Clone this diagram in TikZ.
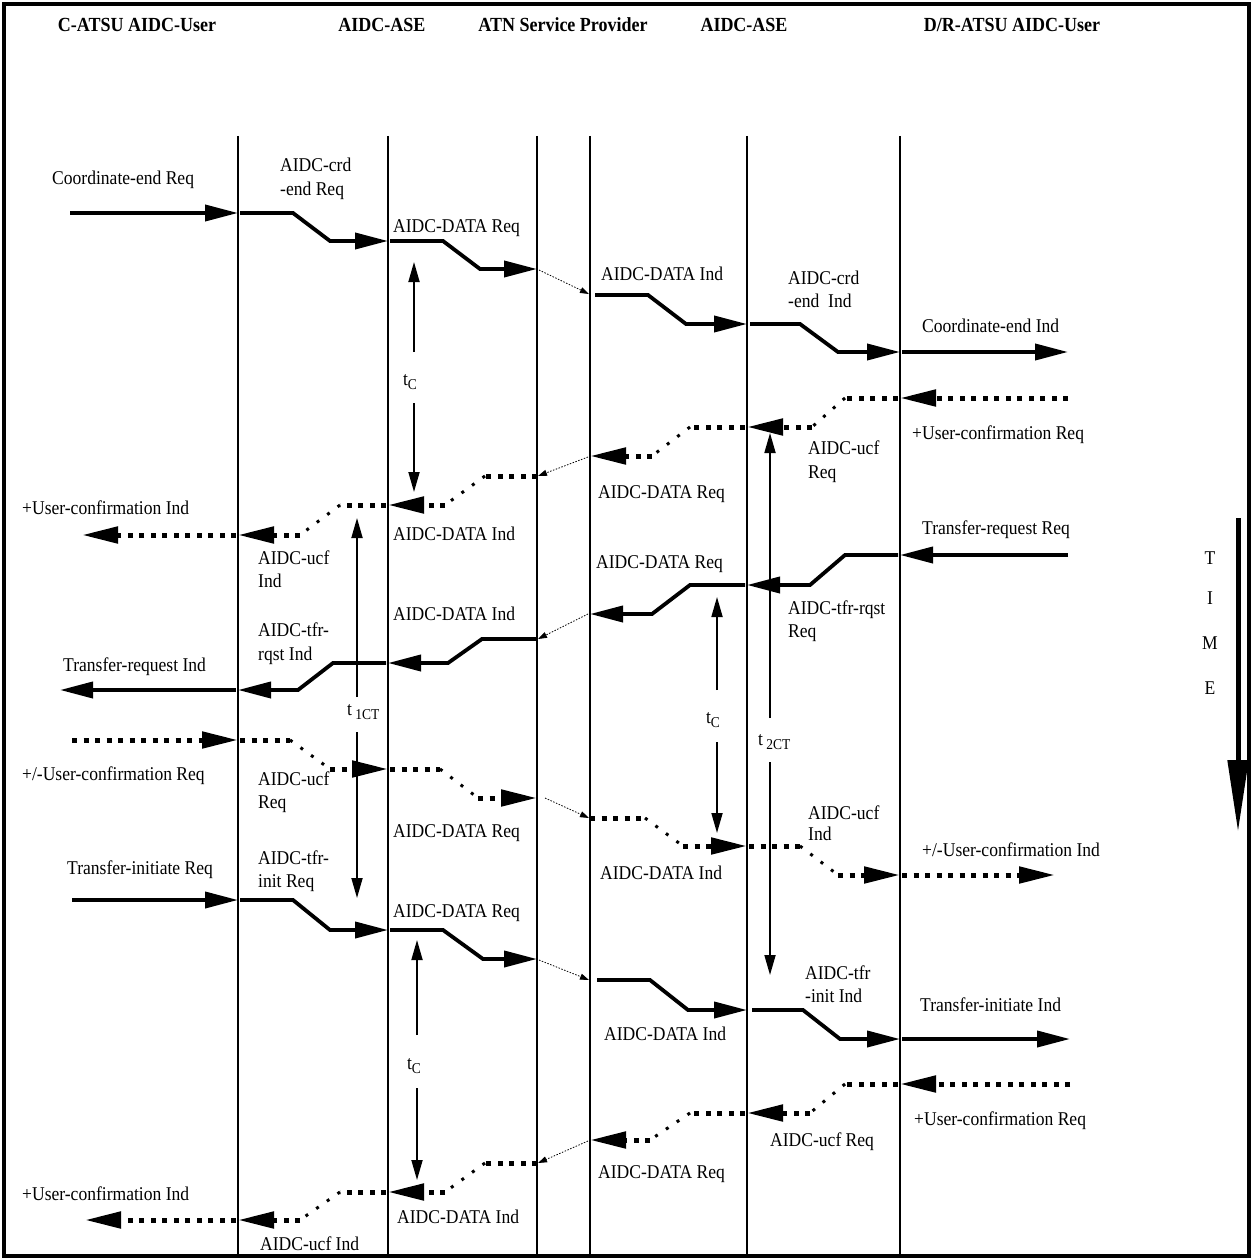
\documentclass[tikz,border=0pt]{standalone}
\usepackage{fontspec}
\setmainfont{Liberation Serif}[FakeStretch=0.9]
\usetikzlibrary{arrows.meta}

\begin{document}
\begin{tikzpicture}[x=1pt,y=-1pt,
  lifeline/.style={line width=1.8pt},
  sol/.style={line width=3.8pt, -{Triangle[length=33pt,width=16pt]}},
  dotline/.style={line width=5pt, dash pattern=on 5pt off 6.5pt},
  dotdiag/.style={line width=3pt, dash pattern=on 3pt off 10pt},
  dot/.style={dotline, -{Triangle[length=36pt,width=16pt]}},
  relay/.style={line width=0.8pt, dash pattern=on 1.5pt off 1.5pt, -{Triangle[length=9pt,width=6pt]}},
  timer/.style={line width=1.8pt, -{Triangle[length=20pt,width=11pt]}},
  lbl/.style={anchor=base west, inner sep=0pt, font=\fontsize{19.5}{23}\selectfont},
  clbl/.style={anchor=base, inner sep=0pt, font=\fontsize{19.5}{23}\selectfont},
  hdr/.style={anchor=base, inner sep=0pt, font=\fontsize{20}{24}\selectfont\bfseries},
]
\newcommand{\subt}[1]{\raisebox{-4pt}{\fontsize{15}{15}\selectfont #1}}
% dotted step message: start x, upper y, bend x 1, bend x 2, lower y, end x
\newcommand{\dotstep}[6]{%
  \draw[dotline] (#1,#2) -- (#3,#2);
  \draw[dotdiag] (#3,#2) -- (#4,#5);
  \draw[dot] (#4,#5) -- (#6,#5);}
\useasboundingbox (0,0) rectangle (1253,1260);

% frame
\draw[line width=4.5pt] (4,4) rectangle (1249,1256);

% column headings
\node[hdr] (h1) at (137,32) {C-ATSU AIDC-User};
\node[hdr] (h2) at (382,32) {AIDC-ASE};
\node[hdr] (h3) at (563,32) {ATN Service Provider};
\node[hdr] (h4) at (744,32) {AIDC-ASE};
\node[hdr] (h5) at (1012,32) {D/R-ATSU AIDC-User};

% lifelines
\foreach \lx in {238,388,537,590,747,900}
  \draw[lifeline] (\lx,136) -- (\lx,1256);

% --- Coordinate-end (solid, rightwards)
\draw[sol] (70,213) -- (238,213);
\draw[sol] (240,213) -- (293,213) -- (330,241) -- (388,241);
\draw[sol] (390,241) -- (443,241) -- (480,269) -- (537,269);
\draw[relay] (539,270) -- (589,294);
\draw[sol] (595,295) -- (648,295) -- (686,324) -- (747,324);
\draw[sol] (750,324) -- (800,324) -- (838,352) -- (900,352);
\draw[sol] (902,352) -- (1068,352);

% --- +User-confirmation (dotted, leftwards)
\draw[dot] (1068,398) -- (900,398);
\dotstep{898}{398}{845}{812}{427}{747}
\dotstep{745}{427}{690}{652}{456}{590}
\draw[relay] (588,457) -- (538,476);
\dotstep{537}{476}{485}{445}{505}{388}
\dotstep{386}{505}{340}{300}{535}{238}
\draw[dot] (236,535) -- (82,535);

% --- Transfer-request (solid, leftwards)
\draw[sol] (1068,555) -- (900,555);
\draw[sol] (898,555) -- (845,555) -- (810,585) -- (747,585);
\draw[sol] (745,585) -- (690,585) -- (652,614) -- (590,614);
\draw[relay] (588,614) -- (538,639);
\draw[sol] (537,639) -- (482,639) -- (448,663) -- (388,663);
\draw[sol] (386,663) -- (333,663) -- (298,690) -- (238,690);
\draw[sol] (236,690) -- (60,690);

% --- +/-User-confirmation (dotted, rightwards)
\draw[dot] (72,740) -- (238,740);
\dotstep{240}{740}{290}{330}{769}{388}
\dotstep{390}{769}{440}{478}{798}{537}
\draw[relay] (545,798) -- (589,818);
\dotstep{590}{818}{645}{683}{846}{747}
\dotstep{749}{846}{800}{838}{875}{900}
\draw[dot] (902,875) -- (1055,875);

% --- Transfer-initiate (solid, rightwards)
\draw[sol] (72,900) -- (238,900);
\draw[sol] (240,900) -- (293,900) -- (330,930) -- (388,930);
\draw[sol] (390,930) -- (443,930) -- (483,959) -- (537,959);
\draw[relay] (539,960) -- (589,980);
\draw[sol] (597,980) -- (650,980) -- (688,1010) -- (747,1010);
\draw[sol] (752,1010) -- (803,1010) -- (840,1039) -- (900,1039);
\draw[sol] (902,1039) -- (1070,1039);

% --- +User-confirmation (dotted, leftwards)
\draw[dot] (1070,1084) -- (900,1084);
\dotstep{898}{1084}{845}{810}{1113}{747}
\dotstep{745}{1113}{690}{650}{1140}{590}
\draw[relay] (588,1141) -- (538,1163);
\dotstep{537}{1163}{485}{445}{1192}{388}
\dotstep{386}{1192}{340}{300}{1220}{238}
\draw[dot] (236,1220) -- (85,1220);

% --- timers
\draw[timer] (414,352) -- (414,262);
\draw[timer] (414,403) -- (414,492);
\node[clbl] (tc1) at (410,385) {t\subt{C}};

\draw[timer] (357,697) -- (357,518);
\draw[timer] (357,732) -- (357,898);
\node[lbl] (t1ct) at (347,715) {t\,\subt{1CT}};

\draw[timer] (717,690) -- (717,597);
\draw[timer] (717,742) -- (717,833);
\node[clbl] (tc2) at (713,723) {t\subt{C}};

\draw[timer] (770,718) -- (770,433);
\draw[timer] (770,762) -- (770,975);
\node[lbl] (t2ct) at (758,745) {t\,\subt{2CT}};

\draw[timer] (417,1035) -- (417,940);
\draw[timer] (417,1088) -- (417,1180);
\node[clbl] (tc3) at (414,1069) {t\subt{C}};

% --- time axis
\draw[line width=5pt, -{Triangle[length=72pt,width=20pt]}] (1238,518) -- (1238,832);
\node[clbl] (tT) at (1210,564) {T};
\node[clbl] (tI) at (1210,604) {I};
\node[clbl] (tM) at (1210,649) {M};
\node[clbl] (tE) at (1210,694) {E};

% --- labels
\node[lbl] (a1) at (52,185) {Coordinate-end Req};
\node[lbl] (a2) at (280,172) {AIDC-crd};
\node[lbl] (a2b) at (280,196) {-end Req};
\node[lbl] (a3) at (393,233) {AIDC-DATA Req};
\node[lbl] (a4) at (601,280) {AIDC-DATA Ind};
\node[lbl] (a5) at (788,284) {AIDC-crd};
\node[lbl] (a5b) at (788,307) {-end\ \ Ind};
\node[lbl] (a6) at (922,332) {Coordinate-end Ind};

\node[lbl] (b1) at (912,439) {+User-confirmation Req};
\node[lbl] (b2) at (808,454) {AIDC-ucf};
\node[lbl] (b2b) at (808,478) {Req};
\node[lbl] (b3) at (598,498) {AIDC-DATA Req};
\node[lbl] (b4) at (393,540) {AIDC-DATA Ind};
\node[lbl] (b5) at (258,564) {AIDC-ucf};
\node[lbl] (b5b) at (258,587) {Ind};
\node[lbl] (b6) at (22,514) {+User-confirmation Ind};

\node[lbl] (c1) at (922,534) {Transfer-request Req};
\node[lbl] (c2) at (788,614) {AIDC-tfr-rqst};
\node[lbl] (c2b) at (788,637) {Req};
\node[lbl] (c3) at (596,568) {AIDC-DATA Req};
\node[lbl] (c4) at (393,620) {AIDC-DATA Ind};
\node[lbl] (c5) at (258,636) {AIDC-tfr-};
\node[lbl] (c5b) at (258,660) {rqst Ind};
\node[lbl] (c6) at (63,671) {Transfer-request Ind};

\node[lbl] (d1) at (22,780) {+/-User-confirmation Req};
\node[lbl] (d2) at (258,785) {AIDC-ucf};
\node[lbl] (d2b) at (258,808) {Req};
\node[lbl] (d3) at (393,837) {AIDC-DATA Req};
\node[lbl] (d4) at (600,879) {AIDC-DATA Ind};
\node[lbl] (d5) at (808,819) {AIDC-ucf};
\node[lbl] (d5b) at (808,840) {Ind};
\node[lbl] (d6) at (922,856) {+/-User-confirmation Ind};

\node[lbl] (e1) at (67,874) {Transfer-initiate Req};
\node[lbl] (e2) at (258,864) {AIDC-tfr-};
\node[lbl] (e2b) at (258,887) {init Req};
\node[lbl] (e3) at (393,917) {AIDC-DATA Req};
\node[lbl] (e4) at (604,1040) {AIDC-DATA Ind};
\node[lbl] (e5) at (805,979) {AIDC-tfr};
\node[lbl] (e5b) at (805,1002) {-init Ind};
\node[lbl] (e6) at (920,1011) {Transfer-initiate Ind};

\node[lbl] (f1) at (914,1125) {+User-confirmation Req};
\node[lbl] (f2) at (770,1146) {AIDC-ucf Req};
\node[lbl] (f3) at (598,1178) {AIDC-DATA Req};
\node[lbl] (f4) at (397,1223) {AIDC-DATA Ind};
\node[lbl] (f5) at (260,1250) {AIDC-ucf Ind};
\node[lbl] (f6) at (22,1200) {+User-confirmation Ind};
\end{tikzpicture}
\end{document}
